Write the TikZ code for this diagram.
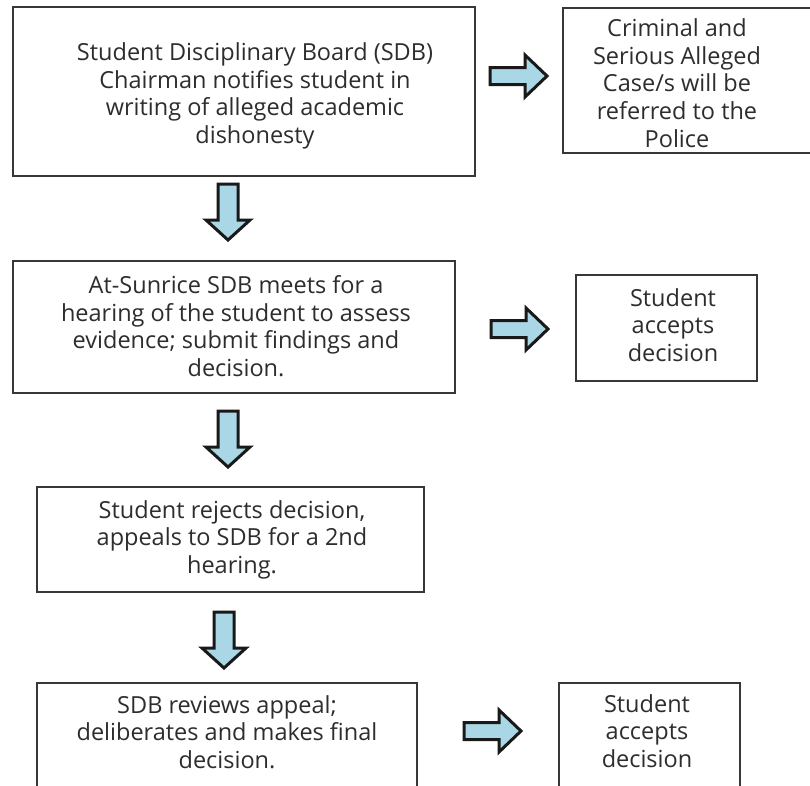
\documentclass[tikz,border=0pt]{standalone}
\usepackage{fontspec}
\setmainfont{Open Sans}
\definecolor{boxcol}{RGB}{55,55,55}
\definecolor{txtcol}{RGB}{45,45,45}
\definecolor{arrline}{RGB}{25,25,25}
\definecolor{arrfill}{RGB}{170,215,230}
\begin{document}
\begin{tikzpicture}[x=1pt,y=-1pt,
  box/.style={draw=boxcol, line width=1.6pt, rectangle, inner sep=0pt},
  txt/.style={align=center, text=txtcol, font=\fontsize{23.5}{27.6}\selectfont, inner sep=0pt},
  blockarrow/.style={draw=arrline, fill=arrfill, line width=3pt, line join=miter},
  rarr/.pic={\path[blockarrow] (0,-8.5) -- (35,-8.5) -- (35,-21) -- (57,0) -- (35,21) -- (35,8.5) -- (0,8.5) -- cycle;},
  darr/.pic={\path[blockarrow] (-10,0) -- (-10,36) -- (-22,36) -- (0,56) -- (22,36) -- (10,36) -- (10,0) -- cycle;}]
\useasboundingbox (0,0) rectangle (810,785);
\fill[white] (0,0) rectangle (810,785);

% boxes
\node[box, minimum width=462, minimum height=169] (b1) at (244,91.5) {};
\node[box, minimum width=252, minimum height=145] (police) at (689,80.5) {};
\node[box, minimum width=442, minimum height=132] (b3) at (234,327) {};
\node[box, minimum width=181, minimum height=106] (acc1) at (666.5,328) {};
\node[box, minimum width=387, minimum height=105] (b5) at (230.5,539.5) {};
\node[box, minimum width=380, minimum height=110] (b6) at (227,738) {};
\node[box, minimum width=181, minimum height=110] (acc2) at (649.5,738) {};

% texts
\node[txt] (t1) at (255,96) {Student Disciplinary Board (SDB)\\ Chairman notifies student in\\ writing of alleged academic\\ dishonesty};
\node[txt] (tp) at (677,83) {Criminal and\\ Serious Alleged\\ Case/s will be\\ referred to the\\ Police};
\node[txt] (t3) at (236,326) {At-Sunrice SDB meets for a\\ hearing of the student to assess\\ evidence; submit findings and\\ decision.};
\node[txt] (ta1) at (673,325) {Student\\ accepts\\ decision};
\node[txt] (t5) at (232,539.5) {Student rejects decision,\\ appeals to SDB for a 2nd\\ hearing.};
\node[txt] (t6) at (227,732) {SDB reviews appeal;\\ deliberates and makes final\\ decision.};
\node[txt] (ta2) at (647,731) {Student\\ accepts\\ decision};

% block arrows
\pic at (490,76) {rarr};
\pic at (491,329) {rarr};
\pic at (464,731) {rarr};
\pic at (228,184) {darr};
\pic at (228,411) {darr};
\pic at (224,612) {darr};
\end{tikzpicture}
\end{document}
